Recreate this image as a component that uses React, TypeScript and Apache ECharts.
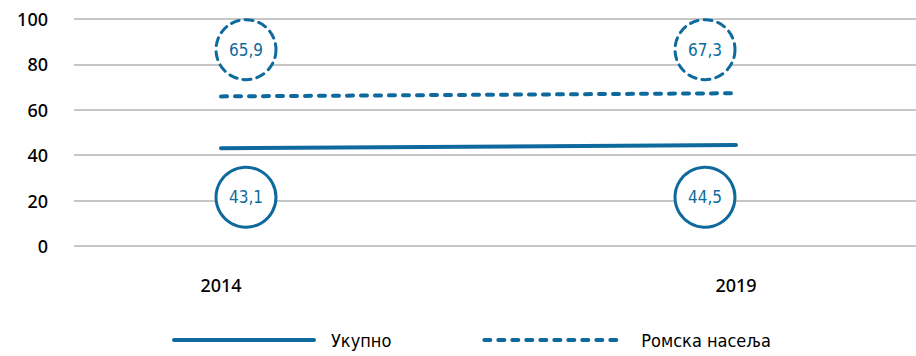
import React, { useEffect, useRef } from "react";
import * as echarts from "echarts";

const years = ["2014", "2019"];
const seriesNames = ["Укупно", "Ромска насеља"];
const totalValues = [43.1, 44.5];
const romaValues = [65.9, 67.3];
const yTicks = { min: 0, max: 100, interval: 20 };
// annotation bubble vertical positions (in axis units) and horizontal offsets
const totalBubbleY = 21.5;
const romaBubbleY = 86.5;
const bubbleOffsetX = [25, -31];

const BLUE = "#0e6a9c";
const NARROW = "'DejaVu Sans Condensed', 'Liberation Sans Narrow', 'Roboto', sans-serif";
const AXISFONT = "'Noto Sans', 'Open Sans', sans-serif";
const fmt = (v: number) => String(v).replace(".", ",");

export default function App() {
  const ref = useRef<HTMLDivElement>(null);
  useEffect(() => {
    if (!ref.current) return;
    const chart = echarts.init(ref.current, null, { renderer: "svg" });
    const bubble = (vals: number[], y: number, dashed: boolean) => ({
      type: "scatter",
      xAxisIndex: 1,
      yAxisIndex: 1,
      symbol: "circle",
      symbolSize: 60,
      z: 5,
      silent: true,
      legendHoverLink: false,
      itemStyle: {
        color: "#ffffff",
        opacity: 1,
        borderColor: BLUE,
        borderWidth: 3,
        borderType: dashed ? [8, 6] : "solid",
        borderCap: "round",
      },
      label: {
        show: true,
        position: "inside",
        color: BLUE,
        fontFamily: NARROW,
        fontWeight: 500,
        fontSize: 17,
        formatter: (p: any) => fmt(p.value[2]),
      },
      data: vals.map((v, i) => ({ value: [i, y, v], symbolOffset: [bubbleOffsetX[i], 0] })),
    });
    chart.setOption({
      animation: false,
      legend: {
        left: 167,
        bottom: 2,
        itemWidth: 140,
        itemHeight: 14,
        itemGap: 91,
        data: seriesNames,
        itemStyle: { opacity: 0 },
        lineStyle: { width: 4, cap: "round" },
        textStyle: {
          fontFamily: NARROW,
          fontSize: 18,
          color: "#000",
          padding: [0, 0, 0, 12],
        },
      },
      grid: [
        { left: 74, right: 0, top: 19, bottom: 110 },
        { left: 221, right: 180, top: 19, bottom: 110 },
      ],
      xAxis: [
        { type: "value", gridIndex: 0, show: false, min: 0, max: 1 },
        {
          type: "category",
          gridIndex: 1,
          data: years,
          boundaryGap: false,
          axisLine: { show: false },
          axisTick: { show: false },
          axisLabel: { margin: 30, fontSize: 18, fontWeight: 500, color: "#000", fontFamily: AXISFONT },
        },
      ],
      yAxis: [
        {
          type: "value",
          gridIndex: 0,
          ...yTicks,
          axisLine: { show: false },
          axisTick: { show: false },
          axisLabel: { margin: 26, fontSize: 18, fontWeight: 500, color: "#000", fontFamily: AXISFONT },
          splitLine: { lineStyle: { color: "#b3b3b3", width: 1.5 } },
        },
        { type: "value", gridIndex: 1, ...yTicks, show: false, splitLine: { show: false } },
      ],
      series: [
        {
          name: seriesNames[0],
          type: "line",
          xAxisIndex: 1,
          yAxisIndex: 1,
          data: totalValues,
          symbol: "none",
          lineStyle: { color: BLUE, width: 4, cap: "round" },
          itemStyle: { color: BLUE },
        },
        {
          name: seriesNames[1],
          type: "line",
          xAxisIndex: 1,
          yAxisIndex: 1,
          data: romaValues,
          symbol: "none",
          lineStyle: { color: BLUE, width: 4, type: [6, 8], cap: "round" },
          itemStyle: { color: BLUE },
        },
        bubble(totalValues, totalBubbleY, false),
        bubble(romaValues, romaBubbleY, true),
      ],
    });
    return () => chart.dispose();
  }, []);
  return (
    <div
      ref={ref}
      style={{ position: "fixed", left: 0, top: 0, width: 916, height: 356, background: "#fff" }}
    />
  );
}
